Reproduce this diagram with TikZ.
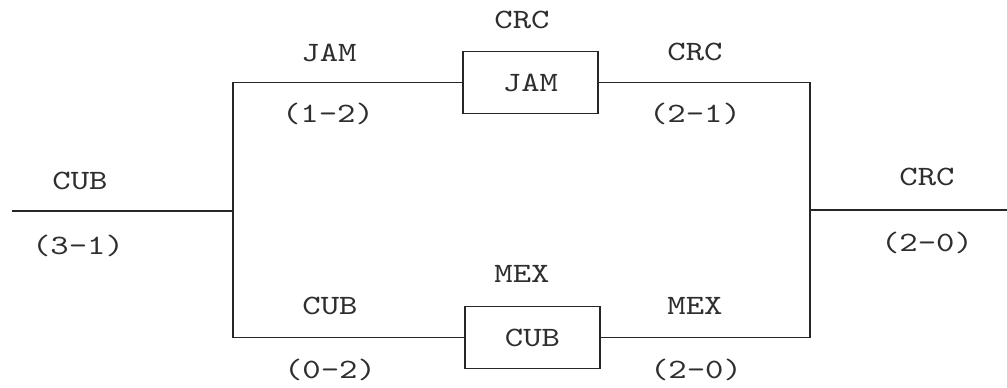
\documentclass[tikz,border=0pt]{standalone}
\usepackage{fontspec}
\newfontfamily\labfont{lmmono10-regular.otf}[FakeStretch=1.25]
\begin{document}
\begin{tikzpicture}[x=1pt,y=-1pt,
  wire/.style={draw=black!85, line width=1.5pt},
  lab/.style={font=\labfont\fontsize{28}{28}\selectfont, text=black!82, inner sep=0pt, anchor=center},
  game/.style={draw=black!85, line width=1.5pt, minimum width=135pt, minimum height=62pt, inner sep=0pt,
    font=\labfont\fontsize{28}{28}\selectfont, text=black!82}]
\useasboundingbox (0,0) rectangle (1007,388);
% matches (boxes)
\node[game] (top) at (530.5,82.5) {JAM};
\node[game] (bot) at (532.5,337.5) {CUB};
% junction coordinates
\coordinate (L)  at (12,211);
\coordinate (LJ) at (233,211);
\coordinate (RJ) at (810,210);
\coordinate (R)  at (1007,210);
% connectors
\draw[wire] (L) -- (LJ);
\draw[wire] (top.west) -| (LJ) |- (bot.west);
\draw[wire] (top.east) -| (RJ) |- (bot.east);
\draw[wire] (RJ) -- (R);
% labels
\node[lab] (l1) at (80,181) {CUB};
\node[lab] (l2) at (78,246) {(3-1)};
\node[lab] (l3) at (329,53) {JAM};
\node[lab] (l4) at (328,114) {(1-2)};
\node[lab] (l5) at (522,20) {CRC};
\node[lab] (l6) at (695,52) {CRC};
\node[lab] (l7) at (695,114) {(2-1)};
\node[lab] (l8) at (927,177) {CRC};
\node[lab] (l9) at (927,243) {(2-0)};
\node[lab] (l10) at (522,274) {MEX};
\node[lab] (l11) at (330,306) {CUB};
\node[lab] (l12) at (330,370) {(0-2)};
\node[lab] (l13) at (695,306) {MEX};
\node[lab] (l14) at (696,370) {(2-0)};
\end{tikzpicture}
\end{document}
